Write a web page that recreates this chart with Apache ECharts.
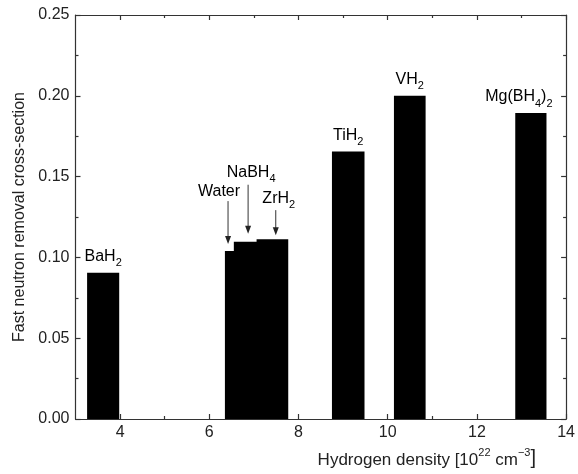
<!DOCTYPE html>
<html>
<head>
<meta charset="utf-8">
<script src="https://cdn.jsdelivr.net/npm/echarts@6/dist/echarts.min.js"></script>
<style>html,body{margin:0;padding:0;background:#fff}#c{width:578px;height:474px}</style>
</head>
<body>
<div id="c"></div>
<script>
// ---- data ----
var names      = ['BaH2', 'Water', 'NaBH4', 'ZrH2', 'TiH2', 'VH2', 'Mg(BH4)2'];
var densityLo  = [3.26, 6.35, 6.55, 7.06, 8.75, 10.14, 12.86];   // 10^22 cm^-3
var densityHi  = [3.98, 7.07, 7.27, 7.77, 9.48, 10.85, 13.56];
var crossSect  = [0.0905, 0.1039, 0.1097, 0.1113, 0.1656, 0.2000, 0.1893];
var arrowNames = ['Water', 'NaBH4', 'ZrH2'];
var arrowAt    = [6.42, 6.87, 7.49];                              // density the arrow points at
var xMajorTicks = [4, 6, 8, 10, 12, 14];
var xMinorTicks = [5, 7, 9, 11, 13];
var yTicks      = [0, 0.05, 0.10, 0.15, 0.20, 0.25];

// ---- styling ----
var FONT = 'Liberation Sans, Arial, Helvetica, sans-serif';
var FS = 16;
var TXT = '#222';
var AX = '#333';
var labelStyle = {            // bar labels: pixel offsets relative to bar top centre
  'BaH2': {dx: 0, dy: -14}, 'TiH2': {dx: 0, dy: -14}, 'VH2': {dx: 0, dy: -14}, 'Mg(BH4)2': {dx: -12, dy: -14}
};
var arrowStyle = {            // arrow pixel geometry: gap above bar, length, label offsets
  'Water': {gap: 7, len: 43, lab: 8, dx: -9},
  'NaBH4': {gap: 8, len: 49, lab: 10, dx: 3},
  'ZrH2':  {gap: 4, len: 25, lab: 10, dx: 3}
};
function rich(name) {
  var out = '';
  name.replace(/([^0-9]+)|([0-9]+)/g, function (m, a, b) {
    out += a ? '{n|' + a + '}' : '{s|' + b + '}';
  });
  return out;
}
var richStyles = {
  n: {fontSize: FS, fontFamily: FONT, color: TXT, padding: [0, 0, 4, 0], verticalAlign: 'bottom'},
  s: {fontSize: 11, fontFamily: FONT, color: TXT, verticalAlign: 'bottom'}
};

var barData = names.map(function (n, i) { return [densityLo[i], densityHi[i], crossSect[i], i]; });
var arrowData = arrowNames.map(function (n, i) {
  return [arrowAt[i], crossSect[names.indexOf(n)], i];
});

function xAx(pos, ticks, len, labels, line) {
  return {
    type: 'value', min: 3, max: 14, position: pos, gridIndex: 0,
    axisLine: {show: line, onZero: false, lineStyle: {color: AX, width: 1.2}},
    axisTick: {show: true, inside: true, length: len, customValues: ticks, lineStyle: {color: AX, width: 1.2}},
    axisLabel: labels ? {show: true, customValues: ticks, margin: 6, color: TXT, fontSize: FS, fontFamily: FONT} : {show: false},
    splitLine: {show: false}
  };
}
var xAxes = [
  xAx('bottom', xMajorTicks, 5, true, true),
  xAx('bottom', xMinorTicks, 3, false, false),
  xAx('top', xMajorTicks, 5, false, true),
  xAx('top', xMinorTicks, 3, false, false)
];
xAxes[0].name = '{n|Hydrogen density [10}{p|22}{n| cm}{p|−3}{b|]}';
xAxes[0].nameLocation = 'middle';
xAxes[0].nameGap = 28;
xAxes[0].nameTextStyle = {
  padding: [0, 0, 0, 212],
  rich: {
    n: {fontSize: 17, fontFamily: FONT, color: TXT, padding: [5, 0, 0, 0]},
    p: {fontSize: 11, fontFamily: FONT, color: TXT, verticalAlign: 'top'},
    b: {fontSize: 20, fontFamily: FONT, color: TXT}
  }
};

function yAx(pos, labels) {
  return {
    type: 'value', min: 0, max: 0.25, interval: 0.05, position: pos,
    axisLine: {show: true, onZero: false, lineStyle: {color: AX, width: 1.2}},
    axisTick: {show: true, inside: true, length: 5, lineStyle: {color: AX, width: 1.2}},
    minorTick: {show: true, splitNumber: 2, length: 3, lineStyle: {color: AX, width: 1.2}},
    axisLabel: labels ? {show: true, margin: 6, color: TXT, fontSize: FS, fontFamily: FONT,
      customValues: yTicks, formatter: function (v) { return v.toFixed(2); }} : {show: false},
    splitLine: {show: false}
  };
}
var yAxes = [yAx('left', true), yAx('right', false)];
yAxes[0].name = 'Fast neutron removal cross-section';
yAxes[0].nameLocation = 'middle';
yAxes[0].nameGap = 47;
yAxes[0].nameTextStyle = {fontSize: FS, fontFamily: FONT, color: TXT};

var option = {
  animation: false,
  backgroundColor: '#fff',
  grid: {left: 75.5, right: 7, top: 15, bottom: 54, containLabel: false},
  xAxis: xAxes,
  yAxis: yAxes,
  series: [
    {
      type: 'custom', xAxisIndex: 0, yAxisIndex: 0, clip: false,
      encode: {x: [0, 1], y: 2},
      data: barData,
      renderItem: function (params, api) {
        var i = api.value(3);
        var p0 = api.coord([api.value(0), api.value(2)]);
        var p1 = api.coord([api.value(1), 0]);
        var children = [{
          type: 'rect',
          shape: {x: p0[0], y: p0[1], width: p1[0] - p0[0], height: p1[1] - p0[1]},
          style: {fill: '#000'}
        }];
        var ls = labelStyle[names[i]];
        if (ls) {
          children.push({
            type: 'text', z2: 10,
            x: (p0[0] + p1[0]) / 2 + ls.dx, y: p0[1] + ls.dy,
            style: {text: rich(names[i]), rich: richStyles, align: 'center', verticalAlign: 'middle'}
          });
        }
        return {type: 'group', children: children};
      }
    },
    {
      type: 'custom', xAxisIndex: 0, yAxisIndex: 0, clip: false,
      encode: {x: 0, y: 1},
      data: arrowData,
      renderItem: function (params, api) {
        var name = arrowNames[api.value(2)];
        var st = arrowStyle[name];
        var p = api.coord([api.value(0), api.value(1)]);
        var tipY = p[1] - st.gap, topY = tipY - st.len;
        return {
          type: 'group', children: [
            {type: 'line', shape: {x1: p[0], y1: topY, x2: p[0], y2: tipY - 5},
              style: {stroke: '#333', lineWidth: 1}},
            {type: 'polygon', shape: {points: [[p[0] - 3, tipY - 8], [p[0] + 3, tipY - 8], [p[0], tipY]]},
              style: {fill: '#222'}},
            {type: 'text', x: p[0] + st.dx, y: topY - st.lab,
              style: {text: rich(name), rich: richStyles, align: 'center', verticalAlign: 'middle'}}
          ]
        };
      }
    }
  ]
};
var chart = echarts.init(document.getElementById('c'), null, {renderer: 'canvas'});
chart.setOption(option);
</script>
</body>
</html>
